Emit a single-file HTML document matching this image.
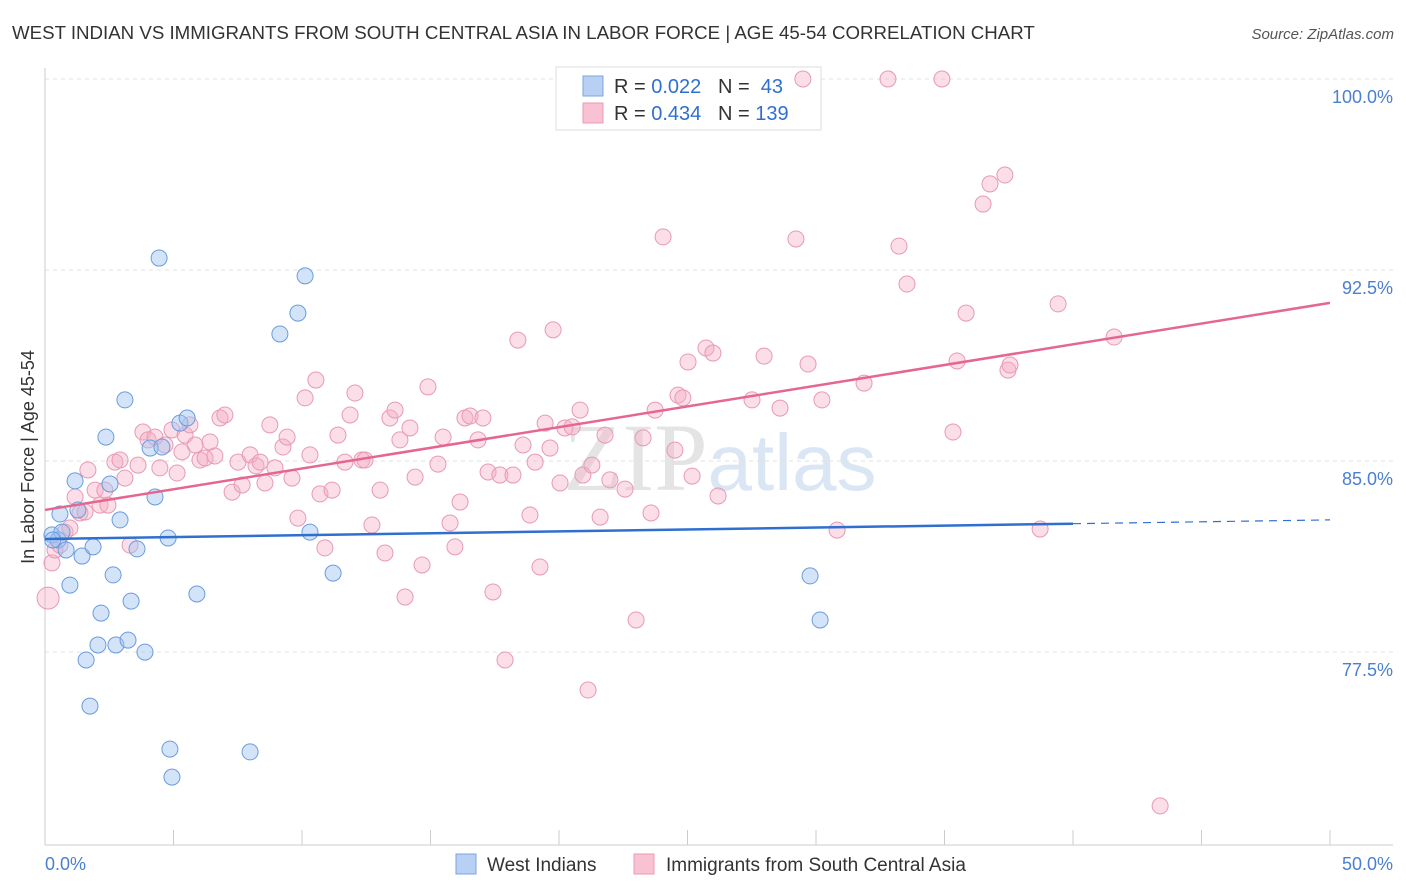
<!DOCTYPE html>
<html><head><meta charset="utf-8">
<style>
body{margin:0;background:#fff;font-family:"Liberation Sans",sans-serif;}
#wrap{position:relative;width:1406px;height:892px;overflow:hidden;}
</style></head>
<body>
<div id="wrap">
<svg id="chart" width="1406" height="892" xmlns="http://www.w3.org/2000/svg"></svg>
</div>
<script>
const blueX=[0.27,0.51,0.66,0.82,0.58,1.17,0.97,1.44,1.87,1.28,2.37,2.53,2.92,3.11,2.65,2.18,2.06,2.76,3.23,3.35,3.58,3.89,1.60,1.75,4.44,4.28,4.09,4.55,4.79,5.25,5.53,5.91,4.86,4.94,7.98,9.14,9.84,10.12,10.31,11.21,29.77,30.16,0.3];
const blueY=[82.10,81.90,82.21,81.51,82.92,84.22,80.13,81.27,81.63,83.08,85.94,84.10,82.69,87.40,80.53,79.03,77.78,77.78,77.97,79.50,81.55,77.50,77.19,75.38,92.97,83.59,85.51,85.55,81.98,86.49,86.69,79.78,73.69,72.59,73.58,89.99,90.81,92.27,82.21,80.60,80.49,78.76,81.9];
const pinkX=[0.12,0.27,0.39,0.58,0.78,0.97,1.17,1.36,1.56,1.67,1.95,2.14,2.33,2.45,2.72,2.92,3.11,3.31,3.62,3.81,4.01,4.28,4.47,4.67,4.94,5.14,5.33,5.45,5.64,5.84,6.03,6.23,6.42,6.61,6.81,7.00,7.28,7.51,7.67,7.98,8.21,8.37,8.56,8.75,8.95,9.26,9.42,9.61,9.84,10.12,10.31,10.54,10.70,10.89,11.17,11.40,11.67,11.87,12.06,12.33,12.45,12.72,13.04,13.23,13.42,13.62,13.81,14.01,14.20,14.40,14.67,14.90,15.29,15.49,15.76,15.95,16.15,16.34,16.54,16.85,17.04,17.24,17.43,17.70,17.90,18.21,18.40,18.60,18.87,19.07,19.26,19.46,19.65,19.77,20.04,20.23,20.51,20.82,20.93,21.13,21.28,21.60,21.79,21.98,22.57,23.00,23.27,23.58,23.74,24.05,24.51,24.63,24.82,25.02,25.18,25.72,25.99,26.19,27.51,27.98,28.60,29.22,29.69,30.23,30.82,31.87,32.80,33.23,33.54,34.90,35.33,35.49,35.84,36.50,36.77,37.35,37.47,37.55,38.72,39.42,41.60,43.39,29.49];
const pinkY=[79.62,81.00,81.51,81.70,82.21,82.37,83.59,82.96,83.00,84.65,83.86,83.27,83.86,83.27,84.96,85.04,84.33,81.70,84.84,86.14,85.83,85.94,84.73,85.63,86.22,84.53,85.36,86.02,86.42,85.63,85.04,85.12,85.75,85.20,86.69,86.81,83.78,84.96,84.06,85.24,84.81,84.96,84.14,86.42,84.73,85.55,85.94,84.33,82.76,87.48,85.24,88.18,83.71,81.59,83.86,86.02,84.96,86.81,87.67,85.04,85.04,82.49,83.86,81.39,86.69,87.00,85.83,79.66,86.30,84.37,80.92,87.91,84.88,85.94,82.57,81.63,83.39,86.69,86.77,85.83,86.69,84.57,79.86,84.45,77.19,84.45,89.75,85.63,82.88,84.96,80.84,86.49,85.51,90.15,84.14,86.30,86.34,87.00,84.45,76.01,84.84,82.80,86.02,84.26,83.90,78.76,85.91,82.96,87.00,93.80,85.43,87.59,87.48,88.89,84.41,89.44,89.24,83.63,87.40,89.12,87.08,93.72,88.81,87.40,82.29,88.06,100.00,93.44,91.95,100.00,86.14,88.93,90.81,95.09,95.88,96.23,88.57,88.77,82.33,91.17,89.87,71.46,100.00];
const yTicks=[100,92.5,85,77.5];
const yTickLabels=["100.0%","92.5%","85.0%","77.5%"];
const xTicks=[0,5,10,15,20,25,30,35,40,45,50];
const blueFit=[81.94,0.0150]; // intercept, slope
const pinkFit=[83.08,0.1626];

const X0=45,X1=1330,YTOP=79,YPX=25.47;
const sx=v=>X0+(X1-X0)*v/50;
const sy=v=>YTOP+(100-v)*YPX;
const svg=document.getElementById('chart');
const NS='http://www.w3.org/2000/svg';
function mk(t,a,parent){const e=document.createElementNS(NS,t);for(const k in a)e.setAttribute(k,a[k]);(parent||svg).appendChild(e);return e;}

// title
let t=mk('text',{x:12,y:39,'font-size':18.7,fill:'#333'});


t.textContent='WEST INDIAN VS IMMIGRANTS FROM SOUTH CENTRAL ASIA IN LABOR FORCE | AGE 45-54 CORRELATION CHART';
t=mk('text',{x:1394,y:39,'font-size':15,fill:'#555','text-anchor':'end','font-style':'italic'});


t.textContent='Source: ZipAtlas.com';

// watermark
t=mk('text',{x:720,y:490,'font-size':96,fill:'#e4e4e4','text-anchor':'middle','font-family':'Liberation Serif, serif'});


t.innerHTML='ZIP<tspan fill="#dbe6f5" font-family="Liberation Sans, sans-serif" font-size="80">atlas</tspan>';

// grid
yTicks.forEach((v,i)=>{
  const g=mk('line',{x1:X0,x2:1393,y1:sy(v),y2:sy(v),stroke:'#e2e2e2','stroke-dasharray':'4,4'});
  
  
  const l=mk('text',{x:1393,y:sy(v)+24,'font-size':18,fill:'#4a7fd0','text-anchor':'end'});
  
  
  l.textContent=yTickLabels[i];
});
// axes
let a=mk('line',{x1:X0,x2:X0,y1:68,y2:845,stroke:'#ccc'});


a=mk('line',{x1:X0,x2:1393,y1:845,y2:845,stroke:'#ccc'});


xTicks.forEach(v=>{
  const k=mk('line',{x1:sx(v),x2:sx(v),y1:830,y2:845,stroke:'#ccc'});
  
  
});
t=mk('text',{x:45,y:870,'font-size':18,fill:'#4a7fd0'});


t.textContent='0.0%';
t=mk('text',{x:1393,y:870,'font-size':18,fill:'#4a7fd0','text-anchor':'end'});


t.textContent='50.0%';
t=mk('text',{x:0,y:0,'font-size':18,fill:'#333','text-anchor':'middle',transform:'translate(34,457) rotate(-90)'});


t.textContent='In Labor Force | Age 45-54';

// legend box (drawn before points)
const lg=mk('g',{});


mk('rect',{x:556,y:67,width:265,height:63,fill:'#fff',stroke:'#ddd'},lg);
mk('rect',{x:583,y:76,width:20,height:20,fill:'#b7d0f4',stroke:'#7aa6e0'},lg);
mk('rect',{x:583,y:103,width:20,height:20,fill:'#f8c2d3',stroke:'#e99ab5'},lg);
t=mk('text',{x:614,y:93,'font-size':20,fill:'#333'},lg);


t.innerHTML='R = <tspan fill="#2f6fd0">0.022</tspan>   N =  <tspan fill="#2f6fd0">43</tspan>';
t=mk('text',{x:614,y:120,'font-size':20,fill:'#333'},lg);


t.innerHTML='R = <tspan fill="#2f6fd0">0.434</tspan>   N = <tspan fill="#2f6fd0">139</tspan>';

// points
pinkX.forEach((x,i)=>{
  const c=mk('circle',{cx:sx(x),cy:sy(pinkY[i]),r:i===0?11:8,fill:'rgba(244,172,196,0.4)',stroke:'#e79ab4','stroke-width':1});
  
  
});
blueX.forEach((x,i)=>{
  const c=mk('circle',{cx:sx(x),cy:sy(blueY[i]),r:8,fill:'rgba(160,195,240,0.45)',stroke:'#6a9be0','stroke-width':1});
  
  
});
// trend lines
let ln=mk('line',{x1:sx(0),y1:sy(pinkFit[0]),x2:sx(50),y2:sy(pinkFit[0]+pinkFit[1]*50),stroke:'#e5678f','stroke-width':2.5});


ln=mk('line',{x1:sx(0),y1:sy(blueFit[0]),x2:sx(40),y2:sy(blueFit[0]+blueFit[1]*40),stroke:'#2f6fd0','stroke-width':2.5});


ln=mk('line',{x1:sx(40),y1:sy(blueFit[0]+blueFit[1]*40),x2:sx(50),y2:sy(blueFit[0]+blueFit[1]*50),stroke:'#2f6fd0','stroke-width':1.2,'stroke-dasharray':'8,6'});



svg.querySelectorAll('text').forEach(e=>e.style.whiteSpace='pre');

// bottom legend
const bl=mk('g',{});


mk('rect',{x:456,y:854,width:20,height:20,fill:'#b7d0f4',stroke:'#7aa6e0'},bl);
t=mk('text',{x:487,y:871,'font-size':19,fill:'#333'},bl);


t.textContent='West Indians';
mk('rect',{x:634,y:854,width:20,height:20,fill:'#f8c2d3',stroke:'#e99ab5'},bl);
t=mk('text',{x:666,y:871,'font-size':19,fill:'#333'},bl);


t.textContent='Immigrants from South Central Asia';
</script>
</body></html>
